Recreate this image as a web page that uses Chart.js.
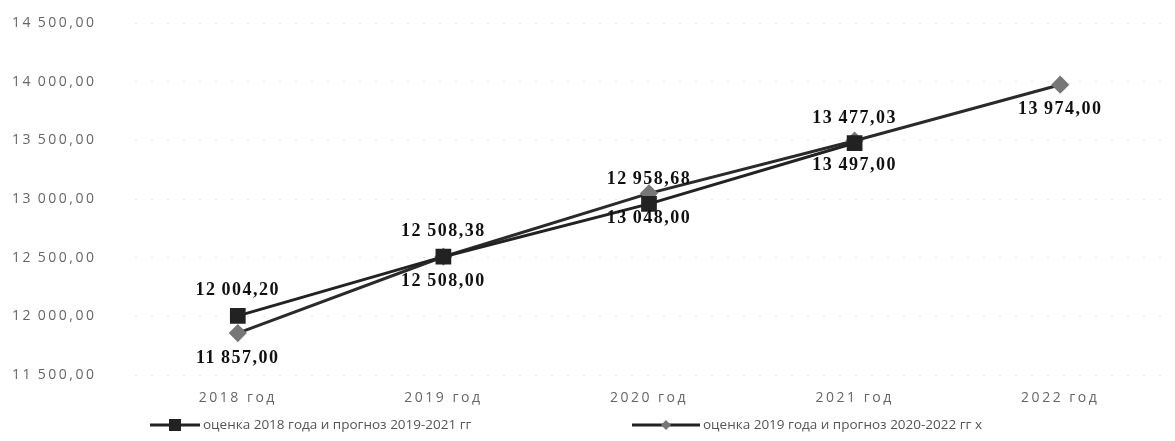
<!DOCTYPE html>
<html lang="ru">
<head>
    <meta charset="UTF-8">
    <title>Оценка и прогноз</title>
    <script src="https://cdn.jsdelivr.net/npm/chart.js"></script>
    <style>
        html, body { margin: 0; padding: 0; background: #fff; }
        #wrap { width: 1175px; height: 441px; }
    </style>
</head>
<body>
    <div id="wrap"><canvas id="lineChart"></canvas></div>
    <script>
        // данные с графика
        const categories = ['2018 год', '2019 год', '2020 год', '2021 год', '2022 год'];
        const estimate2018 = [12004.20, 12508.38, 12958.68, 13477.03, null];
        const estimate2019 = [11857.00, 12508.00, 13048.00, 13497.00, 13974.00];
        const seriesNames = ['оценка 2018 года и прогноз 2019-2021 гг', 'оценка 2019 года и прогноз 2020-2022 гг х'];
        const yMin = 11500, yMax = 14500, yStep = 500;

        // 12 004,20 — узкий пробел между разрядами
        function fmt(v) {
            const parts = v.toFixed(2).split('.');
            return parts[0].replace(/\B(?=(\d{3})+(?!\d))/g, '\u2009') + ',' + parts[1];
        }

        // разреженный шрифт для подписей осей
        const spacing = {
            id: 'spacing',
            beforeDraw(chart) { chart.ctx.letterSpacing = '2.5px'; }
        };

        // подписи значений: первая серия сверху, вторая снизу
        const valueLabels = {
            id: 'valueLabels',
            afterDatasetsDraw(chart) {
                const ctx = chart.ctx;
                ctx.save();
                ctx.letterSpacing = '1.5px';
                ctx.font = 'bold 18px "Liberation Serif"';
                ctx.fillStyle = '#111';
                ctx.textAlign = 'center';
                ctx.textBaseline = 'middle';
                chart.data.datasets.forEach((ds, i) => {
                    chart.getDatasetMeta(i).data.forEach((pt, j) => {
                        const v = ds.data[j];
                        if (v == null) return;
                        const dy = i === 0 ? -25 : 25;
                        ctx.fillText(fmt(v), pt.x, pt.y + dy);
                    });
                });
                ctx.restore();
            }
        };

        // легенда внизу: линия с маркером и текст
        const bottomLegend = {
            id: 'bottomLegend',
            afterDraw(chart) {
                const ctx = chart.ctx;
                const y = 425;
                const items = [
                    { x: 150, w: 50, marker: 'square' },
                    { x: 632, w: 68, marker: 'diamond' }
                ];
                ctx.save();
                ctx.letterSpacing = '0px';
                items.forEach((it, i) => {
                    ctx.strokeStyle = '#222';
                    ctx.lineWidth = 3;
                    ctx.beginPath();
                    ctx.moveTo(it.x, y);
                    ctx.lineTo(it.x + it.w, y);
                    ctx.stroke();
                    const mx = it.x + it.w / 2;
                    if (it.marker === 'square') {
                        ctx.fillStyle = '#222';
                        ctx.fillRect(mx - 6, y - 6, 12, 12);
                    } else {
                        ctx.fillStyle = '#777';
                        ctx.beginPath();
                        ctx.moveTo(mx, y - 5);
                        ctx.lineTo(mx + 5, y);
                        ctx.lineTo(mx, y + 5);
                        ctx.lineTo(mx - 5, y);
                        ctx.closePath();
                        ctx.fill();
                    }
                    ctx.font = '13.5px "Open Sans"';
                    ctx.fillStyle = '#555';
                    ctx.textAlign = 'left';
                    ctx.textBaseline = 'middle';
                    ctx.fillText(seriesNames[i], it.x + it.w + 3, y);
                });
                ctx.restore();
            }
        };

        const ctx = document.getElementById('lineChart').getContext('2d');
        new Chart(ctx, {
            type: 'line',
            data: {
                labels: categories,
                datasets: [
                    {
                        label: seriesNames[0],
                        data: estimate2018,
                        borderColor: '#222',
                        borderWidth: 3,
                        pointStyle: 'rect',
                        pointRadius: 9,
                        pointBackgroundColor: '#222',
                        pointBorderColor: '#222',
                        spanGaps: false
                    },
                    {
                        label: seriesNames[1],
                        data: estimate2019,
                        borderColor: '#2a2a2a',
                        borderWidth: 3,
                        pointStyle: 'rectRot',
                        pointRadius: 7,
                        pointBackgroundColor: '#777',
                        pointBorderColor: '#777'
                    }
                ]
            },
            options: {
                responsive: true,
                maintainAspectRatio: false,
                animation: false,
                layout: { padding: { left: 12, right: 12, top: 23, bottom: 30 } },
                plugins: {
                    legend: { display: false },
                    tooltip: { enabled: false }
                },
                scales: {
                    x: {
                        offset: true,
                        grid: { display: false, drawTicks: false },
                        border: { display: false },
                        ticks: {
                            color: '#666',
                            font: { family: 'Open Sans', size: 14 },
                            padding: 15
                        },
                        afterFit(scale) { scale.height = 36; }
                    },
                    y: {
                        min: yMin,
                        max: yMax,
                        grid: {
                            color: 'rgba(0,0,0,0.1)',
                            drawTicks: false
                        },
                        border: { display: false, dash: [2, 14] },
                        ticks: {
                            stepSize: yStep,
                            color: '#666',
                            crossAlign: 'far',
                            font: { family: 'Open Sans', size: 14 },
                            callback: v => fmt(v)
                        },
                        afterFit(scale) { scale.width = 123; }
                    }
                }
            },
            plugins: [spacing, valueLabels, bottomLegend]
        });
    </script>
</body>
</html>
